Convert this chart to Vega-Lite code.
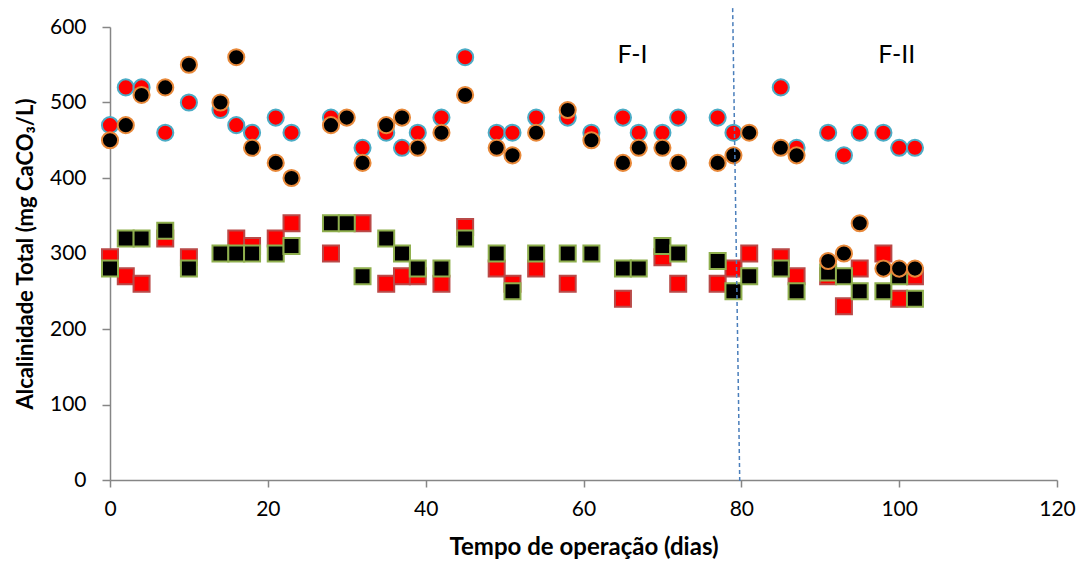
{
  "$schema": "https://vega.github.io/schema/vega-lite/v6.json",
  "width": 947,
  "height": 453,
  "autosize": {"type": "none"},
  "padding": {"left": 110, "top": 27, "right": 26, "bottom": 90},
  "background": "white",
  "config": {
    "view": {"stroke": null},
    "font": "Lato",
    "axis": {"grid": false, "domainColor": "#868686", "tickColor": "#868686", "domainWidth": 1.5, "tickWidth": 1.5, "labelFont": "Lato", "labelFontSize": 21, "labelColor": "#000", "labelFlush": false, "titleFont": "Lato", "titleFontWeight": "bold", "titleColor": "#000"}
  },
  "datasets": {
    "pts": [
      {"s": "rs", "d": 0, "v": 295}, {"s": "rs", "d": 2, "v": 270}, {"s": "rs", "d": 4, "v": 260}, {"s": "rs", "d": 7, "v": 320}, {"s": "rs", "d": 10, "v": 295}, {"s": "rs", "d": 16, "v": 320}, {"s": "rs", "d": 18, "v": 310}, {"s": "rs", "d": 21, "v": 320}, {"s": "rs", "d": 23, "v": 340}, {"s": "rs", "d": 28, "v": 300}, {"s": "rs", "d": 32, "v": 340}, {"s": "rs", "d": 35, "v": 260}, {"s": "rs", "d": 37, "v": 270}, {"s": "rs", "d": 39, "v": 270}, {"s": "rs", "d": 42, "v": 260}, {"s": "rs", "d": 45, "v": 335}, {"s": "rs", "d": 49, "v": 280}, {"s": "rs", "d": 51, "v": 260}, {"s": "rs", "d": 54, "v": 280}, {"s": "rs", "d": 58, "v": 260}, {"s": "rs", "d": 65, "v": 240}, {"s": "rs", "d": 70, "v": 295}, {"s": "rs", "d": 72, "v": 260}, {"s": "rs", "d": 77, "v": 260}, {"s": "rs", "d": 79, "v": 280}, {"s": "rs", "d": 81, "v": 300}, {"s": "rs", "d": 85, "v": 295}, {"s": "rs", "d": 87, "v": 270}, {"s": "rs", "d": 91, "v": 270}, {"s": "rs", "d": 93, "v": 230}, {"s": "rs", "d": 95, "v": 280}, {"s": "rs", "d": 98, "v": 300}, {"s": "rs", "d": 100, "v": 240}, {"s": "rs", "d": 102, "v": 270},
      {"s": "bs", "d": 0, "v": 280}, {"s": "bs", "d": 2, "v": 320}, {"s": "bs", "d": 4, "v": 320}, {"s": "bs", "d": 7, "v": 330}, {"s": "bs", "d": 10, "v": 280}, {"s": "bs", "d": 14, "v": 300}, {"s": "bs", "d": 16, "v": 300}, {"s": "bs", "d": 18, "v": 300}, {"s": "bs", "d": 21, "v": 300}, {"s": "bs", "d": 23, "v": 310}, {"s": "bs", "d": 28, "v": 340}, {"s": "bs", "d": 30, "v": 340}, {"s": "bs", "d": 32, "v": 270}, {"s": "bs", "d": 35, "v": 320}, {"s": "bs", "d": 37, "v": 300}, {"s": "bs", "d": 39, "v": 280}, {"s": "bs", "d": 42, "v": 280}, {"s": "bs", "d": 45, "v": 320}, {"s": "bs", "d": 49, "v": 300}, {"s": "bs", "d": 51, "v": 250}, {"s": "bs", "d": 54, "v": 300}, {"s": "bs", "d": 58, "v": 300}, {"s": "bs", "d": 61, "v": 300}, {"s": "bs", "d": 65, "v": 280}, {"s": "bs", "d": 67, "v": 280}, {"s": "bs", "d": 70, "v": 310}, {"s": "bs", "d": 72, "v": 300}, {"s": "bs", "d": 77, "v": 290}, {"s": "bs", "d": 79, "v": 250}, {"s": "bs", "d": 81, "v": 270}, {"s": "bs", "d": 85, "v": 280}, {"s": "bs", "d": 87, "v": 250}, {"s": "bs", "d": 91, "v": 275}, {"s": "bs", "d": 93, "v": 270}, {"s": "bs", "d": 95, "v": 250}, {"s": "bs", "d": 98, "v": 250}, {"s": "bs", "d": 100, "v": 270}, {"s": "bs", "d": 102, "v": 240},
      {"s": "rc", "d": 0, "v": 470}, {"s": "rc", "d": 2, "v": 520}, {"s": "rc", "d": 4, "v": 520}, {"s": "rc", "d": 7, "v": 460}, {"s": "rc", "d": 10, "v": 500}, {"s": "rc", "d": 14, "v": 490}, {"s": "rc", "d": 16, "v": 470}, {"s": "rc", "d": 18, "v": 460}, {"s": "rc", "d": 21, "v": 480}, {"s": "rc", "d": 23, "v": 460}, {"s": "rc", "d": 28, "v": 480}, {"s": "rc", "d": 32, "v": 440}, {"s": "rc", "d": 35, "v": 460}, {"s": "rc", "d": 37, "v": 440}, {"s": "rc", "d": 39, "v": 460}, {"s": "rc", "d": 42, "v": 480}, {"s": "rc", "d": 45, "v": 560}, {"s": "rc", "d": 49, "v": 460}, {"s": "rc", "d": 51, "v": 460}, {"s": "rc", "d": 54, "v": 480}, {"s": "rc", "d": 58, "v": 480}, {"s": "rc", "d": 61, "v": 460}, {"s": "rc", "d": 65, "v": 480}, {"s": "rc", "d": 67, "v": 460}, {"s": "rc", "d": 70, "v": 460}, {"s": "rc", "d": 72, "v": 480}, {"s": "rc", "d": 77, "v": 480}, {"s": "rc", "d": 79, "v": 460}, {"s": "rc", "d": 85, "v": 520}, {"s": "rc", "d": 87, "v": 440}, {"s": "rc", "d": 91, "v": 460}, {"s": "rc", "d": 93, "v": 430}, {"s": "rc", "d": 95, "v": 460}, {"s": "rc", "d": 98, "v": 460}, {"s": "rc", "d": 100, "v": 440}, {"s": "rc", "d": 102, "v": 440},
      {"s": "bc", "d": 0, "v": 450}, {"s": "bc", "d": 2, "v": 470}, {"s": "bc", "d": 4, "v": 510}, {"s": "bc", "d": 7, "v": 520}, {"s": "bc", "d": 10, "v": 550}, {"s": "bc", "d": 14, "v": 500}, {"s": "bc", "d": 16, "v": 560}, {"s": "bc", "d": 18, "v": 440}, {"s": "bc", "d": 21, "v": 420}, {"s": "bc", "d": 23, "v": 400}, {"s": "bc", "d": 28, "v": 470}, {"s": "bc", "d": 30, "v": 480}, {"s": "bc", "d": 32, "v": 420}, {"s": "bc", "d": 35, "v": 470}, {"s": "bc", "d": 37, "v": 480}, {"s": "bc", "d": 39, "v": 440}, {"s": "bc", "d": 42, "v": 460}, {"s": "bc", "d": 45, "v": 510}, {"s": "bc", "d": 49, "v": 440}, {"s": "bc", "d": 51, "v": 430}, {"s": "bc", "d": 54, "v": 460}, {"s": "bc", "d": 58, "v": 490}, {"s": "bc", "d": 61, "v": 450}, {"s": "bc", "d": 65, "v": 420}, {"s": "bc", "d": 67, "v": 440}, {"s": "bc", "d": 70, "v": 440}, {"s": "bc", "d": 72, "v": 420}, {"s": "bc", "d": 77, "v": 420}, {"s": "bc", "d": 79, "v": 430}, {"s": "bc", "d": 81, "v": 460}, {"s": "bc", "d": 85, "v": 440}, {"s": "bc", "d": 87, "v": 430}, {"s": "bc", "d": 91, "v": 290}, {"s": "bc", "d": 93, "v": 300}, {"s": "bc", "d": 95, "v": 340}, {"s": "bc", "d": 98, "v": 280}, {"s": "bc", "d": 100, "v": 280}, {"s": "bc", "d": 102, "v": 280}
    ],
    "line": [{"x1": 78.9, "y1": 625, "x2": 79.8, "y2": -4}],
    "labels": [{"t": "F-I", "d": 66.2, "v": 563}, {"t": "F-II", "d": 99.7, "v": 563}]
  },
  "encoding": {
    "x": {"field": "d", "type": "quantitative", "scale": {"domain": [0, 120], "nice": false}, "axis": {"values": [0, 20, 40, 60, 80, 100, 120], "title": "Tempo de operação (dias)", "titleFontSize": 24, "tickSize": 7, "labelPadding": 11, "titlePadding": 16}},
    "y": {"field": "v", "type": "quantitative", "scale": {"domain": [0, 600], "nice": false}, "axis": {"values": [0, 100, 200, 300, 400, 500, 600], "title": "Alcalinidade Total  (mg CaCO₃/L)", "titleFontSize": 22, "tickSize": 8, "labelPadding": 16, "titlePadding": 12}}
  },
  "layer": [
    {"data": {"name": "pts"}, "transform": [{"filter": "datum.s === 'rs'"}], "mark": {"type": "square", "size": 256, "fill": "#FF0000", "stroke": "#B94A48", "strokeWidth": 2, "opacity": 1}},
    {"data": {"name": "pts"}, "transform": [{"filter": "datum.s === 'bs'"}], "mark": {"type": "square", "size": 256, "fill": "#000000", "stroke": "#8FAF4E", "strokeWidth": 2, "opacity": 1}},
    {"data": {"name": "pts"}, "transform": [{"filter": "datum.s === 'rc'"}], "mark": {"type": "circle", "size": 260, "fill": "#FF0000", "stroke": "#4BACC6", "strokeWidth": 2, "opacity": 1}},
    {"data": {"name": "pts"}, "transform": [{"filter": "datum.s === 'bc'"}], "mark": {"type": "circle", "size": 260, "fill": "#000000", "stroke": "#E8893A", "strokeWidth": 2, "opacity": 1}},
    {"data": {"name": "line"}, "mark": {"type": "rule", "color": "#4A7EBB", "strokeWidth": 1.5, "strokeDash": [4, 3], "clip": false},
     "encoding": {"x": {"field": "x1", "type": "quantitative"}, "y": {"field": "y1", "type": "quantitative"}, "x2": {"field": "x2"}, "y2": {"field": "y2"}}},
    {"data": {"name": "labels"}, "mark": {"type": "text", "fontSize": 25, "font": "Lato", "color": "#000", "align": "center", "baseline": "middle"},
     "encoding": {"text": {"field": "t"}}}
  ]
}
